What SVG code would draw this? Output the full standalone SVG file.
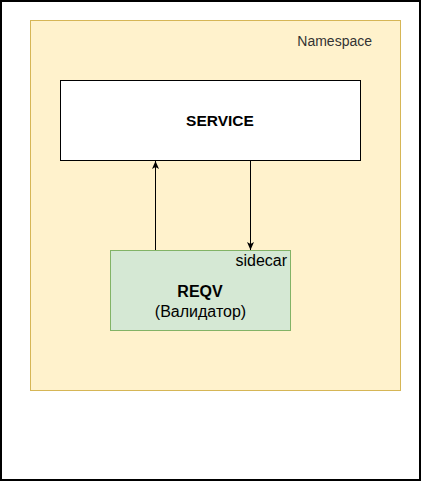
<svg xmlns="http://www.w3.org/2000/svg" width="421" height="481" viewBox="0 0 421 481">
<style>
text{font-family:"Liberation Sans",Arial,sans-serif}
.b{font-weight:bold}
</style>
<defs>
<marker id="ah" viewBox="0 0 8 8" refX="8" refY="4" markerWidth="8" markerHeight="8" markerUnits="userSpaceOnUse" orient="auto">
<path d="M0,0.5 L8,4 L0,7.5 L2,4 Z" fill="#000"/>
</marker>
</defs>
<rect x="0" y="0" width="421" height="481" fill="#fff"/>
<rect id="frame" x="1" y="1" width="419" height="479" fill="none" stroke="#000" stroke-width="2"/>
<g id="namespace">
<rect x="30.5" y="20.5" width="370" height="370" fill="#fff2cc" stroke="#d6b656"/>
<text x="372" y="46" font-size="14" fill="#333" text-anchor="end">Namespace</text>
</g>
<g id="service">
<rect x="60.5" y="80.5" width="300" height="80" fill="#fff" stroke="#000"/>
<text x="220" y="126" font-size="15.5" class="b" text-anchor="middle">SERVICE</text>
</g>
<g id="reqv">
<rect x="110.5" y="250.5" width="180" height="80" fill="#d5e8d4" stroke="#82b366"/>
<text x="287" y="266" font-size="16" text-anchor="end">sidecar</text>
<text x="200" y="297" font-size="16" class="b" text-anchor="middle">REQV</text>
<text x="200.5" y="316.5" font-size="16" text-anchor="middle">(Валидатор)</text>
</g>
<g id="connectors" stroke="#000" fill="none">
<line x1="155.5" y1="250" x2="155.5" y2="161" marker-end="url(#ah)"/>
<line x1="250.5" y1="161" x2="250.5" y2="250" marker-end="url(#ah)"/>
</g>
</svg>
